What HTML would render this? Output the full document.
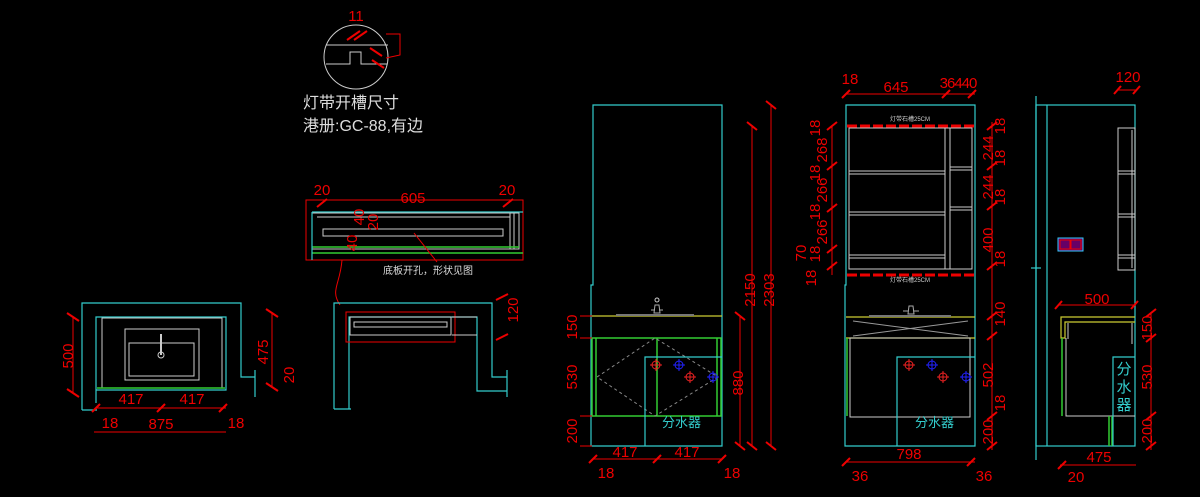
<!DOCTYPE html>
<html><head><meta charset="utf-8"><style>
html,body{margin:0;padding:0;background:#000;width:1200px;height:497px;overflow:hidden}
svg{display:block}
text{font-family:"Liberation Sans","Noto Sans CJK SC",sans-serif}
.c{stroke:#3cc;fill:none;stroke-width:1.2}
.w{stroke:#ccc;fill:none;stroke-width:1}
.r{stroke:#e00;fill:none;stroke-width:1}
.g{stroke:#3c3;fill:none;stroke-width:1.5}
.y{stroke:#cc3;fill:none;stroke-width:1.2}
.t{fill:#e00;font-size:15px}
.tk{stroke:#e00;stroke-width:2}
</style></head><body>
<svg width="1200" height="497" viewBox="0 0 1200 497">
<!-- Plan view left -->
<path class="c" d="M82 410 V303 H241 V377 H255 M96 403 V317 H226 V390 H96 Z M82 410 H97"/>
<rect class="w" x="102" y="318" width="120" height="70"/>
<rect class="w" x="125" y="329" width="74" height="51" stroke="#999"/>
<rect class="w" x="129" y="343" width="65" height="33" stroke="#999"/>
<line x1="161" y1="334" x2="161" y2="355" stroke="#ccc" stroke-width="2"/>
<circle cx="161" cy="355" r="3" class="w"/>
<line class="g" x1="97" y1="388" x2="225" y2="388"/>
<line class="c" x1="255" y1="370" x2="255" y2="397"/>
<line class="r" x1="73" y1="317" x2="73" y2="393"/>
<line class="tk" x1="67" y1="313" x2="79" y2="321"/><line class="tk" x1="67" y1="389" x2="79" y2="397"/>
<text class="t" transform="translate(73,356) rotate(-90)" text-anchor="middle">500</text>
<line class="r" x1="272" y1="313" x2="272" y2="387"/>
<line class="tk" x1="266" y1="309" x2="278" y2="317"/><line class="tk" x1="266" y1="383" x2="278" y2="391"/>
<text class="t" transform="translate(268,352) rotate(-90)" text-anchor="middle">475</text>
<text class="t" transform="translate(294,375) rotate(-90)" text-anchor="middle">20</text>
<line class="r" x1="96" y1="408" x2="226" y2="408"/>
<line class="tk" x1="92" y1="412" x2="100" y2="404"/><line class="tk" x1="157" y1="412" x2="165" y2="404"/><line class="tk" x1="219" y1="412" x2="227" y2="404"/>
<text class="t" x="131" y="404" text-anchor="middle">417</text><text class="t" x="192" y="404" text-anchor="middle">417</text>
<text class="t" x="110" y="428" text-anchor="middle">18</text><text class="t" x="236" y="428" text-anchor="middle">18</text>
<line class="r" x1="94" y1="432" x2="226" y2="432"/>
<text class="t" x="161" y="429" text-anchor="middle">875</text>

<!-- detail circle -->
<circle cx="356" cy="57" r="32" class="w"/>
<path class="w" d="M326 45 H388 M326 64 H350 V52 H361 V64 H387"/>
<text class="t" x="356" y="21" text-anchor="middle" font-size="16">11</text>
<line class="tk" x1="347" y1="40" x2="360" y2="31"/><line class="tk" x1="354" y1="40" x2="367" y2="31"/>
<line class="tk" x1="370" y1="48" x2="382" y2="56"/><line class="tk" x1="372" y1="60" x2="384" y2="68"/>
<path class="r" d="M386 58 L400 55 V34 H386"/>
<text x="303" y="108" fill="#ddd" font-size="16" font-family="'Noto Sans CJK SC',sans-serif">灯带开槽尺寸</text>
<text x="303" y="131" fill="#ddd" font-size="16" font-family="'Liberation Mono','Noto Sans CJK SC',monospace">港册:GC-88,有边</text>

<!-- middle top -->
<rect class="r" x="306" y="200" width="217" height="60"/>
<line class="c" x1="312" y1="212" x2="523" y2="212"/>
<rect class="w" x="312" y="213" width="207" height="36"/>
<line class="w" x1="317" y1="217" x2="510" y2="217"/>
<line class="w" x1="510" y1="213" x2="510" y2="249"/><line class="w" x1="514" y1="213" x2="514" y2="249"/>
<rect class="w" x="323" y="229" width="180" height="7"/>
<line class="g" x1="312" y1="247" x2="519" y2="247" stroke-width="1"/><line class="g" x1="312" y1="253" x2="523" y2="253" stroke-width="1"/>
<line class="c" x1="312" y1="212" x2="312" y2="260"/>
<text class="t" x="322" y="195" text-anchor="middle">20</text><text class="t" x="413" y="203" text-anchor="middle">605</text><text class="t" x="507" y="195" text-anchor="middle">20</text>
<line class="tk" x1="317" y1="207" x2="327" y2="199"/><line class="tk" x1="503" y1="207" x2="513" y2="199"/>
<text class="t" transform="translate(364,217) rotate(-90)" text-anchor="middle" font-size="13">40</text>
<text class="t" transform="translate(378,222) rotate(-90)" text-anchor="middle" font-size="13">20</text>
<text class="t" transform="translate(357,243) rotate(-90)" text-anchor="middle" font-size="13">40</text>
<line class="r" x1="414" y1="233" x2="437" y2="262"/>
<text x="383" y="274" fill="#ddd" font-size="10" font-family="'Noto Sans CJK SC',sans-serif">底板开孔，形状见图</text>
<path class="r" d="M342 260 C340 285 330 290 340 305"/>

<!-- middle lower U -->
<path class="c" d="M334 409 V303 H492 V377 H507 M349 409 V317 H477 V391 H507 M334 409 H351"/>
<line class="c" x1="507" y1="370" x2="507" y2="397"/>
<rect class="r" x="346" y="312" width="109" height="30"/>
<rect class="w" x="350" y="317" width="101" height="18"/>
<rect class="w" x="354" y="322" width="93" height="5"/>
<line class="w" x1="452" y1="317" x2="477" y2="317"/><line class="w" x1="452" y1="335" x2="477" y2="335"/>
<text class="t" transform="translate(518,310) rotate(-90)" text-anchor="middle">120</text>
<line class="tk" x1="496" y1="300" x2="508" y2="294"/><line class="tk" x1="496" y1="340" x2="508" y2="334"/>

<!-- Front elevation 1 -->
<path class="c" d="M593 105 H722 V446 H591 V285 H593 Z"/>
<line class="y" x1="591" y1="316" x2="722" y2="316"/>
<rect x="616" y="314" width="78" height="2" fill="#777"/>
<path d="M654 313 h6 l-1 -8 h-4 z M651 310 h4 M659 310 h4" stroke="#aaa" fill="none"/>
<circle cx="657" cy="300" r="2" class="w"/>
<rect class="g" x="592" y="338" width="129" height="78" stroke-width="1.2"/>
<line class="g" x1="596" y1="338" x2="596" y2="416" stroke-width="1"/><line class="g" x1="657" y1="338" x2="657" y2="416"/><line class="g" x1="717" y1="338" x2="717" y2="416" stroke-width="1"/>
<path d="M597 377 L655 338 L718 377 L655 416 Z" stroke="#888" stroke-dasharray="3,3" fill="none"/>
<path class="c" d="M645 446 V357 H722"/>
<g stroke="#e22" fill="none"><circle cx="656" cy="365" r="4"/><path d="M650 365h12M656 359v12"/><circle cx="690" cy="377" r="4"/><path d="M684 377h12M690 371v12"/></g>
<g stroke="#22f" fill="none"><circle cx="679" cy="365" r="4"/><path d="M673 365h12M679 359v12"/><circle cx="713" cy="377" r="4"/><path d="M707 377h12M713 371v12"/></g>
<text x="662" y="427" fill="#3cc" font-size="13" font-family="'Noto Sans CJK SC',sans-serif">分水器</text>
<line class="r" x1="771" y1="105" x2="771" y2="446"/><line class="r" x1="752" y1="126" x2="752" y2="446"/><line class="r" x1="740" y1="316" x2="740" y2="446"/>
<line class="tk" x1="766" y1="101" x2="776" y2="109"/><line class="tk" x1="747" y1="122" x2="757" y2="130"/><line class="tk" x1="735" y1="312" x2="745" y2="320"/>
<line class="tk" x1="735" y1="442" x2="745" y2="450"/><line class="tk" x1="747" y1="442" x2="757" y2="450"/><line class="tk" x1="766" y1="442" x2="776" y2="450"/>
<text class="t" transform="translate(774,290) rotate(-90)" text-anchor="middle">2303</text>
<text class="t" transform="translate(755,290) rotate(-90)" text-anchor="middle">2150</text>
<text class="t" transform="translate(743,383) rotate(-90)" text-anchor="middle">880</text>
<text class="t" transform="translate(577,327) rotate(-90)" text-anchor="middle">150</text>
<text class="t" transform="translate(577,377) rotate(-90)" text-anchor="middle">530</text>
<text class="t" transform="translate(577,431) rotate(-90)" text-anchor="middle">200</text>
<line class="r" x1="580" y1="316" x2="592" y2="316"/><line class="r" x1="580" y1="338" x2="592" y2="338"/><line class="r" x1="580" y1="416" x2="592" y2="416"/><line class="r" x1="580" y1="446" x2="592" y2="446"/>
<line class="r" x1="593" y1="459" x2="722" y2="459"/>
<line class="tk" x1="589" y1="463" x2="597" y2="455"/><line class="tk" x1="653" y1="463" x2="661" y2="455"/><line class="tk" x1="718" y1="463" x2="726" y2="455"/>
<text class="t" x="625" y="457" text-anchor="middle">417</text><text class="t" x="687" y="457" text-anchor="middle">417</text>
<text class="t" x="606" y="478" text-anchor="middle">18</text><text class="t" x="732" y="478" text-anchor="middle">18</text>

<!-- Front elevation 2 -->
<path class="c" d="M846 105 H975 V446 H845 V285 H846 Z"/>
<line x1="847" y1="126" x2="974" y2="126" stroke="#e00" stroke-width="3" stroke-dasharray="10,3"/>
<line x1="847" y1="275" x2="974" y2="275" stroke="#e00" stroke-width="3" stroke-dasharray="10,3"/>
<text x="910" y="121" fill="#ccc" font-size="6" text-anchor="middle" font-family="'Noto Sans CJK SC',sans-serif">灯带石槽25CM</text>
<text x="910" y="282" fill="#ccc" font-size="6" text-anchor="middle" font-family="'Noto Sans CJK SC',sans-serif">灯带石槽25CM</text>
<rect class="w" x="849" y="128" width="123" height="141"/>
<line class="w" x1="945" y1="128" x2="945" y2="269"/><line class="w" x1="950" y1="128" x2="950" y2="269"/>
<path class="w" d="M849 171H945M849 174H945M849 212H945M849 215H945M849 255H945M849 258H945M950 167H972M950 170H972M950 207H972M950 210H972"/>
<line class="y" x1="846" y1="317" x2="975" y2="317"/><line class="y" x1="846" y1="338" x2="975" y2="338"/>
<rect x="869" y="315" width="82" height="2" fill="#777"/>
<path d="M908 314 h6 l-1 -8 h-4 z M903 311 h5 M914 311 h5" stroke="#aaa" fill="none"/>
<path d="M853 321 L968 336 M853 336 L968 321" stroke="#999"/>
<rect class="w" x="850" y="338" width="120" height="79"/>
<line class="g" x1="847" y1="338" x2="847" y2="416"/>
<path class="c" d="M897 446 V357 H975"/>
<g stroke="#e22" fill="none"><circle cx="909" cy="365" r="4"/><path d="M903 365h12M909 359v12"/><circle cx="943" cy="377" r="4"/><path d="M937 377h12M943 371v12"/></g>
<g stroke="#22f" fill="none"><circle cx="932" cy="365" r="4"/><path d="M926 365h12M932 359v12"/><circle cx="966" cy="377" r="4"/><path d="M960 377h12M966 371v12"/></g>
<text x="915" y="427" fill="#3cc" font-size="13" font-family="'Noto Sans CJK SC',sans-serif">分水器</text>
<line class="r" x1="846" y1="94" x2="975" y2="94"/>
<line class="tk" x1="842" y1="98" x2="850" y2="90"/><line class="tk" x1="942" y1="98" x2="950" y2="90"/><line class="tk" x1="968" y1="98" x2="976" y2="90"/>
<text class="t" x="850" y="84" text-anchor="middle">18</text><text class="t" x="896" y="92" text-anchor="middle">645</text><text class="t" x="958" y="88" text-anchor="middle" letter-spacing="-1">36440</text>
<line class="r" x1="832" y1="126" x2="832" y2="275"/>
<g class="t" font-size="14">
<text transform="translate(820,128) rotate(-90)" text-anchor="middle">18</text>
<text transform="translate(827,150) rotate(-90)" text-anchor="middle">268</text>
<text transform="translate(820,173) rotate(-90)" text-anchor="middle">18</text>
<text transform="translate(827,190) rotate(-90)" text-anchor="middle">266</text>
<text transform="translate(820,212) rotate(-90)" text-anchor="middle">18</text>
<text transform="translate(827,232) rotate(-90)" text-anchor="middle">266</text>
<text transform="translate(820,254) rotate(-90)" text-anchor="middle">18</text>
<text transform="translate(806,253) rotate(-90)" text-anchor="middle">70</text>
<text transform="translate(816,278) rotate(-90)" text-anchor="middle">18</text>
<text transform="translate(1005,126) rotate(-90)" text-anchor="middle">18</text>
<text transform="translate(993,148) rotate(-90)" text-anchor="middle">244</text>
<text transform="translate(1005,158) rotate(-90)" text-anchor="middle">18</text>
<text transform="translate(993,187) rotate(-90)" text-anchor="middle">244</text>
<text transform="translate(1005,197) rotate(-90)" text-anchor="middle">18</text>
<text transform="translate(993,240) rotate(-90)" text-anchor="middle">400</text>
<text transform="translate(1005,259) rotate(-90)" text-anchor="middle">18</text>
<text transform="translate(1005,314) rotate(-90)" text-anchor="middle">140</text>
<text transform="translate(993,375) rotate(-90)" text-anchor="middle">502</text>
<text transform="translate(1005,403) rotate(-90)" text-anchor="middle">18</text>
<text transform="translate(993,432) rotate(-90)" text-anchor="middle">200</text>
</g>
<g class="tk"><line x1="827" y1="130" x2="837" y2="122"/><line x1="827" y1="170" x2="837" y2="162"/><line x1="827" y1="212" x2="837" y2="204"/><line x1="827" y1="253" x2="837" y2="245"/><line x1="827" y1="270" x2="837" y2="262"/>
<line x1="987" y1="130" x2="997" y2="122"/><line x1="987" y1="170" x2="997" y2="162"/><line x1="987" y1="210" x2="997" y2="202"/><line x1="987" y1="270" x2="997" y2="262"/><line x1="987" y1="320" x2="997" y2="312"/><line x1="987" y1="340" x2="997" y2="332"/><line x1="987" y1="420" x2="997" y2="412"/><line x1="987" y1="450" x2="997" y2="442"/></g>
<line class="r" x1="992" y1="122" x2="992" y2="450"/>
<line class="r" x1="846" y1="462" x2="975" y2="462"/>
<line class="tk" x1="842" y1="466" x2="850" y2="458"/><line class="tk" x1="967" y1="466" x2="975" y2="458"/>
<text class="t" x="909" y="459" text-anchor="middle">798</text>
<text class="t" x="860" y="481" text-anchor="middle">36</text><text class="t" x="984" y="481" text-anchor="middle">36</text>

<!-- Side view -->
<line class="c" x1="1036" y1="96" x2="1036" y2="460"/>
<rect class="c" x="1036" y="105" width="99" height="341"/>
<line class="c" x1="1047" y1="105" x2="1047" y2="446"/>
<path d="M1031 268 h10" class="c"/>
<rect class="w" x="1118" y="128" width="17" height="142"/>
<path class="w" d="M1118 171H1135M1118 174H1135M1118 214H1135M1118 217H1135M1118 255H1135M1118 258H1135M1132 130V268"/>
<rect x="1058" y="238" width="25" height="13" fill="#606" stroke="#3cf"/>
<rect x="1060" y="240" width="10" height="9" fill="none" stroke="#e00"/><rect x="1071" y="240" width="10" height="9" fill="none" stroke="#e00"/>
<path class="y" d="M1135 317 H1061 V338 H1065 V322 H1135"/>
<path class="w" d="M1066 338 V416 H1135 M1068 323 V339 M1132 323 V344"/>
<line class="g" x1="1062" y1="338" x2="1062" y2="416"/><line class="g" x1="1109" y1="416" x2="1109" y2="446" stroke-width="1"/><line class="g" x1="1112" y1="416" x2="1112" y2="446" stroke-width="1"/>
<path class="c" d="M1113 446 V357 H1135"/>
<text x="1124" y="374" fill="#3cc" font-size="15" text-anchor="middle" font-family="'Noto Sans CJK SC',sans-serif">分</text>
<text x="1124" y="392" fill="#3cc" font-size="15" text-anchor="middle" font-family="'Noto Sans CJK SC',sans-serif">水</text>
<text x="1124" y="410" fill="#3cc" font-size="15" text-anchor="middle" font-family="'Noto Sans CJK SC',sans-serif">器</text>
<line class="r" x1="1117" y1="90" x2="1137" y2="90"/><line class="tk" x1="1114" y1="94" x2="1121" y2="86"/><line class="tk" x1="1133" y1="94" x2="1140" y2="86"/>
<text class="t" x="1128" y="82" text-anchor="middle">120</text>
<line class="r" x1="1058" y1="305" x2="1135" y2="305"/><line class="tk" x1="1055" y1="309" x2="1062" y2="301"/><line class="tk" x1="1131" y1="309" x2="1138" y2="301"/>
<text class="t" x="1097" y="304" text-anchor="middle">500</text>
<line class="r" x1="1151" y1="313" x2="1151" y2="450"/>
<g class="tk"><line x1="1146" y1="317" x2="1156" y2="309"/><line x1="1146" y1="342" x2="1156" y2="334"/><line x1="1146" y1="420" x2="1156" y2="412"/><line x1="1146" y1="450" x2="1156" y2="442"/></g>
<text class="t" transform="translate(1152,328) rotate(-90)" text-anchor="middle">150</text>
<text class="t" transform="translate(1152,377) rotate(-90)" text-anchor="middle">530</text>
<text class="t" transform="translate(1152,431) rotate(-90)" text-anchor="middle">200</text>
<line class="r" x1="1060" y1="465" x2="1136" y2="465"/><line class="tk" x1="1058" y1="469" x2="1066" y2="461"/>
<text class="t" x="1099" y="462" text-anchor="middle">475</text>
<text class="t" x="1076" y="482" text-anchor="middle">20</text>
</svg>
</body></html>
